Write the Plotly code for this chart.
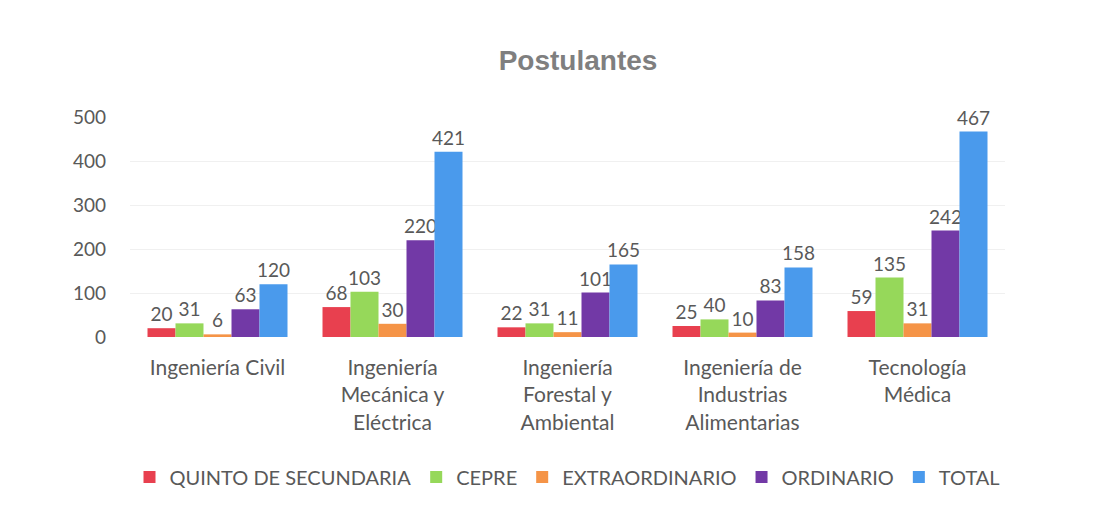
import plotly.graph_objects as go

categories = [
    "Ingeniería Civil",
    "Ingeniería<br>Mecánica y<br>Eléctrica",
    "Ingeniería<br>Forestal y<br>Ambiental",
    "Ingeniería de<br>Industrias<br>Alimentarias",
    "Tecnología<br>Médica",
]
quinto = [20, 68, 22, 25, 59]
cepre = [31, 103, 31, 40, 135]
extraordinario = [6, 30, 11, 10, 31]
ordinario = [63, 220, 101, 83, 242]
total = [120, 421, 165, 158, 467]

series = [
    ("QUINTO DE SECUNDARIA", quinto, "#e8404f"),
    ("CEPRE", cepre, "#96d85a"),
    ("EXTRAORDINARIO", extraordinario, "#f59447"),
    ("ORDINARIO", ordinario, "#7239a6"),
    ("TOTAL", total, "#4a9aec"),
]

fig = go.Figure()
for name, vals, color in series:
    fig.add_trace(go.Bar(
        x=categories, y=vals, name=name,
        marker=dict(color=color, line=dict(width=0)),
        text=[str(v) for v in vals], textposition="outside",
        constraintext="none",
        textfont=dict(size=19, color="#595959", family="Lato"),
        cliponaxis=False,
    ))

fig.update_layout(
    width=1104, height=511,
    paper_bgcolor="white", plot_bgcolor="white",
    barmode="group", bargap=0.2, bargroupgap=0,
    margin=dict(l=130, r=99, t=117, b=174),
    title=dict(text="<b>Postulantes</b>", x=0.5236, xanchor="center", y=0.882, yanchor="middle",
               font=dict(size=28, color="#7f7f7f", family="Liberation Sans")),
    font=dict(family="Lato", color="#595959", size=16),
    legend=dict(orientation="h", x=0.5, xanchor="center", y=-0.636, yanchor="middle",
                font=dict(size=20, color="#595959"), itemwidth=30, traceorder="normal"),
)
fig.update_yaxes(range=[0, 500], dtick=100, showgrid=True, gridcolor="#f0f0f0",
                 zeroline=False, showline=False, ticks="", ticklabelstandoff=23,
                 tickfont=dict(size=19, color="#595959"))
fig.update_xaxes(showline=False, ticks="", tickfont=dict(size=21, color="#595959"),
                 ticklabelstandoff=16)

fig.write_html("out.html", config={"displayModeBar": False},
               post_script="document.body.style.margin='0';")
